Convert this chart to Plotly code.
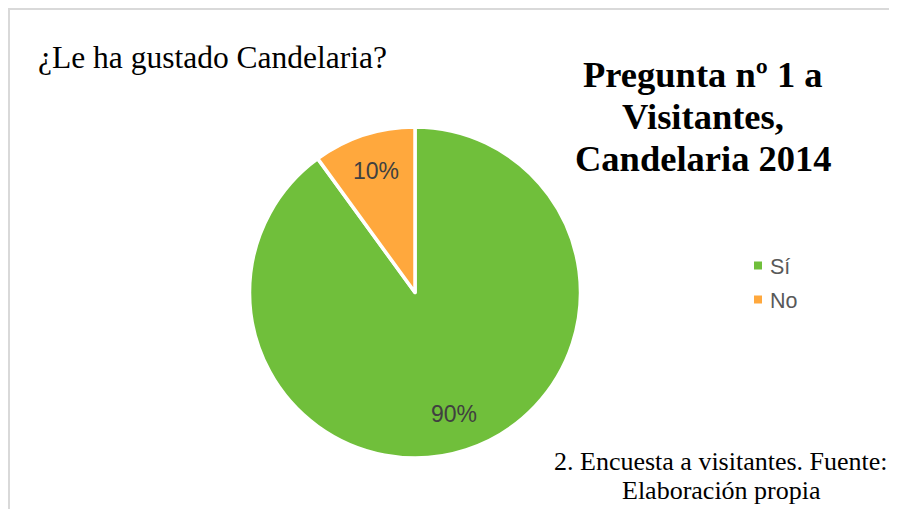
import math
import plotly.graph_objects as go

categories = ["Sí", "No"]
values = [90, 10]
colors = ["#70BF3B", "#FFA83D"]

# The page body adds an 8px margin, so the figure is sized to fit the window.
OFF = 8
W, H = 897 - OFF, 509 - OFF


def px(x):
    return (x - OFF) / W


def py(y):
    return 1 - (y - OFF) / H


# pie geometry (reference pixels)
CX, CY, R = 415, 292.5, 165.5

fig = go.Figure()
fig.add_trace(go.Pie(
    labels=categories,
    values=values,
    sort=False,
    direction="clockwise",
    rotation=0,
    marker=dict(colors=colors, line=dict(color="white", width=3.5)),
    textinfo="none",
    domain=dict(x=[px(CX - R), px(CX + R)], y=[py(CY + R), py(CY - R)]),
    hoverinfo="label+percent",
    showlegend=False,
))

annotations = []
shapes = []

# percentage labels placed at slice mid-angles (clockwise from 12 o'clock)
total = sum(values)
start = 0.0
for v in values:
    frac = v / total
    mid = (start + frac / 2) * 2 * math.pi
    r = 0.78 * (R - 2)
    x = CX + r * math.sin(mid)
    y = CY - r * math.cos(mid)
    annotations.append(dict(
        text=f"{round(frac * 100)}%", x=px(x), y=py(y), xref="paper", yref="paper",
        xanchor="center", yanchor="middle", showarrow=False,
        font=dict(family="Liberation Sans, Arial", size=23, color="#404040")))
    start += frac

# legend (square swatch + label)
for i, (lab, col) in enumerate(zip(categories, colors)):
    yc = 265.5 + i * 34
    shapes.append(dict(type="rect", xref="paper", yref="paper",
                       x0=px(754), x1=px(762), y0=py(yc + 4), y1=py(yc - 4),
                       fillcolor=col, line=dict(width=0)))
    annotations.append(dict(
        text=lab, x=px(768), y=py(yc + 1), xref="paper", yref="paper",
        xanchor="left", yanchor="middle", showarrow=False,
        font=dict(family="Liberation Sans, Arial", size=21.5, color="#595959")))

# chart border
shapes.append(dict(type="rect", xref="paper", yref="paper",
                   x0=1 / W, x1=1.05, y0=-0.05, y1=1 - 1 / H,
                   line=dict(color="#D9D9D9", width=2)))

serif = "Liberation Serif, Times New Roman"
annotations.append(dict(
    text="¿Le ha gustado Candelaria?", x=px(36), y=py(57),
    xref="paper", yref="paper", xanchor="left", yanchor="middle",
    showarrow=False, font=dict(family=serif, size=31.5, color="#000000")))

for i, line in enumerate(["Pregunta nº 1 a", "Visitantes,", "Candelaria 2014"]):
    annotations.append(dict(
        text=f"<b>{line}</b>", x=px(703), y=py(75 + i * 42),
        xref="paper", yref="paper", xanchor="center", yanchor="middle",
        showarrow=False, font=dict(family=serif, size=36.5, color="#000000")))

for i, line in enumerate(["2. Encuesta a visitantes. Fuente:", "Elaboración propia"]):
    annotations.append(dict(
        text=line, x=px(721), y=py(461 + i * 29),
        xref="paper", yref="paper", xanchor="center", yanchor="middle",
        showarrow=False, font=dict(family=serif, size=26, color="#000000")))

fig.update_layout(
    width=W, height=H,
    margin=dict(l=0, r=0, t=0, b=0),
    paper_bgcolor="white",
    plot_bgcolor="white",
    showlegend=False,
    shapes=shapes,
    annotations=annotations,
)

fig.write_html("out.html")
